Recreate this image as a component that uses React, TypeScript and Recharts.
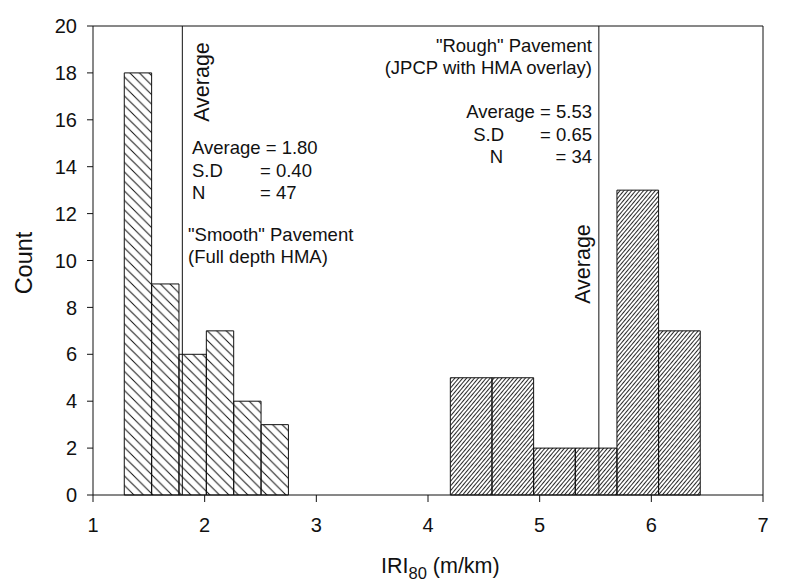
import {
  ComposedChart,
  XAxis,
  YAxis,
  ReferenceArea,
  ReferenceLine,
} from "recharts";

// bin edges (m/km) and counts
const smoothEdges = [1.28, 1.525, 1.77, 2.015, 2.26, 2.505, 2.75];
const smoothCounts = [18, 9, 6, 7, 4, 3];
const roughEdges = [4.2, 4.573, 4.946, 5.319, 5.692, 6.065, 6.438];
const roughCounts = [5, 5, 2, 2, 13, 7];

const smoothAverage = 1.8;
const roughAverage = 5.53;

const xTicks = [1, 2, 3, 4, 5, 6, 7];
const yTicks = [0, 2, 4, 6, 8, 10, 12, 14, 16, 18, 20];

const FONT = "'Liberation Sans', Arial, Helvetica, sans-serif";

type Bin = { x0: number; x1: number; count: number };

const toBins = (edges: number[], counts: number[]): Bin[] =>
  counts.map((c, i) => ({ x0: edges[i], x1: edges[i + 1], count: c }));

const smoothBins = toBins(smoothEdges, smoothCounts);
const roughBins = toBins(roughEdges, roughCounts);

const AverageLabel = ({ viewBox, dx, cy }: any) => {
  const x = viewBox.x + dx;
  return (
    <text
      x={x}
      y={cy}
      transform={`rotate(-90 ${x} ${cy})`}
      textAnchor="middle"
      dominantBaseline="central"
      fontFamily={FONT}
      fontSize={21.5}
      fill="#111"
    >
      Average
    </text>
  );
};

const XTitle = ({ viewBox }: any) => (
  <text x={381} y={viewBox.y + 78} fontFamily={FONT} fontSize={21.5} fill="#111">
    IRI
    <tspan dy={6} fontSize={16.5}>
      80
    </tspan>
    <tspan dy={-6}> (m/km)</tspan>
  </text>
);

const YTitle = () => (
  <text
    x={24}
    y={263}
    transform="rotate(-90 24 263)"
    textAnchor="middle"
    dominantBaseline="central"
    fontFamily={FONT}
    fontSize={23.5}
    fill="#111"
  >
    Count
  </text>
);

const txt = { fontFamily: FONT, fontSize: 18.5, fill: "#111" };

const Notes = () => (
  <g>
    <text x={192} y={154} {...txt}>Average = 1.80</text>
    <text x={192} y={177} {...txt}>S.D</text>
    <text x={260} y={177} {...txt}>= 0.40</text>
    <text x={192} y={199} {...txt}>N</text>
    <text x={260} y={199} {...txt}>= 47</text>
    <text x={188} y={241} {...txt}>"Smooth" Pavement</text>
    <text x={188} y={263} {...txt}>(Full depth HMA)</text>

    <text x={592} y={52} textAnchor="end" {...txt}>"Rough" Pavement</text>
    <text x={592} y={74} textAnchor="end" {...txt}>(JPCP with HMA overlay)</text>
    <text x={592} y={118} textAnchor="end" {...txt}>Average = 5.53</text>
    <text x={504} y={141} textAnchor="end" {...txt}>S.D</text>
    <text x={592} y={141} textAnchor="end" {...txt}>= 0.65</text>
    <text x={503} y={163} textAnchor="end" {...txt}>N</text>
    <text x={592} y={163} textAnchor="end" {...txt}>= 34</text>
  </g>
);

export default function App() {
  return (
    <div style={{ position: "absolute", left: 0, top: 0, background: "#fff" }}>
      <ComposedChart
        width={809}
        height={583}
        data={[...smoothBins, ...roughBins]}
        margin={{ top: 26, right: 46, left: 0, bottom: 0 }}
      >
        <defs>
          <pattern id="hatchBack" patternUnits="userSpaceOnUse" width={9.5} height={9.5}>
            <path
              d="M-1,8.5 l2,2 M0,0 l9.5,9.5 M8.5,-1 l2,2"
              stroke="#111"
              strokeWidth={1}
            />
          </pattern>
          <pattern
            id="hatchFwd"
            patternUnits="userSpaceOnUse"
            width={3}
            height={10}
            patternTransform="rotate(40)"
          >
            <line x1={0.5} y1={0} x2={0.5} y2={10} stroke="#111" strokeWidth={0.9} />
          </pattern>
        </defs>
        <XAxis
          type="number"
          dataKey="x0"
          domain={[1, 7]}
          ticks={xTicks}
          allowDataOverflow
          height={88}
          tickSize={7}
          tickMargin={16}
          axisLine={{ stroke: "#111" }}
          tickLine={{ stroke: "#111" }}
          tick={{ fill: "#111", fontSize: 20, fontFamily: FONT }}
          label={<XTitle />}
        />
        <YAxis
          type="number"
          domain={[0, 20]}
          ticks={yTicks}
          allowDataOverflow
          width={93}
          tickSize={6}
          tickMargin={10}
          axisLine={{ stroke: "#111" }}
          tickLine={{ stroke: "#111" }}
          tick={{ fill: "#111", fontSize: 20, fontFamily: FONT }}
          label={<YTitle />}
        />
        {smoothBins.map((b, i) => (
          <ReferenceArea
            key={`s${i}`}
            x1={b.x0}
            x2={b.x1}
            y1={0}
            y2={b.count}
            fill="url(#hatchBack)"
            fillOpacity={1}
            stroke="#111"
            strokeWidth={1}
          />
        ))}
        {roughBins.map((b, i) => (
          <ReferenceArea
            key={`r${i}`}
            x1={b.x0}
            x2={b.x1}
            y1={0}
            y2={b.count}
            fill="url(#hatchFwd)"
            fillOpacity={1}
            stroke="#111"
            strokeWidth={1}
          />
        ))}
        <ReferenceLine
          x={smoothAverage}
          stroke="#111"
          label={(p: any) => <AverageLabel {...p} dx={20} cy={82} />}
        />
        <ReferenceLine
          x={roughAverage}
          stroke="#111"
          label={(p: any) => <AverageLabel {...p} dx={-16} cy={264} />}
        />
        <ReferenceLine y={20} stroke="#111" />
        <ReferenceLine x={7} stroke="#111" />
        <Notes />
      </ComposedChart>
    </div>
  );
}
